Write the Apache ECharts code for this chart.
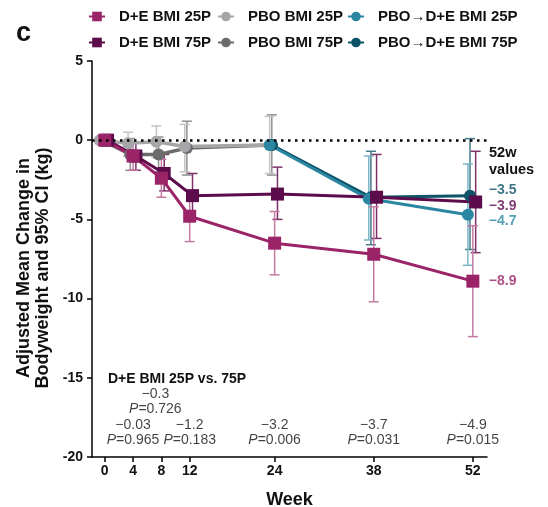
<!DOCTYPE html>
<html>
<head>
<meta charset="utf-8">
<script src="https://cdn.jsdelivr.net/npm/echarts@6/dist/echarts.min.js"></script>
<style>
html, body { margin: 0; padding: 0; background: #fff; }
#chart { width: 548px; height: 507px; }
</style>
</head>
<body>
<div id="chart"></div>
<script>
// weeks shown on the x axis
const weekTicks = [0, 4, 8, 12, 24, 38, 52];
const deWeeks = [0, 4, 8, 12, 24, 38, 52];
const pboWeeks = [0, 4, 8, 12, 24];
const swWeeks = [24, 38, 52];

// D+E BMI 25P
const de25 = [0, -1.0, -2.4, -4.8, -6.5, -7.2, -8.9];
const de25Lo = [0, -1.9, -3.6, -6.4, -8.5, -10.2, -12.4];
const de25Hi = [0, -0.1, -1.2, -3.2, -4.5, -4.2, -5.4];
// D+E BMI 75P
const de75 = [0, -1.0, -2.1, -3.5, -3.4, -3.6, -3.9];
const de75Lo = [0, -1.9, -3.2, -4.9, -5.0, -6.2, -7.1];
const de75Hi = [0, -0.1, -0.9, -2.1, -1.7, -0.9, -0.7];
// PBO BMI 25P
const pbo25 = [0, -0.2, -0.1, -0.4, -0.3];
const pbo25Lo = [0, -1.0, -1.1, -2.0, -2.1];
const pbo25Hi = [0, 0.5, 0.9, 1.0, 1.5];
// PBO BMI 75P
const pbo75 = [0, -0.9, -0.9, -0.5, -0.3];
const pbo75Lo = [0, -1.9, -2.0, -2.2, -2.2];
const pbo75Hi = [0, 0.1, 0.2, 1.2, 1.6];
// PBO->D+E BMI 25P
const sw25 = [-0.3, -3.7, -4.7];
const sw25Lo = [-0.3, -6.3, -7.9];
const sw25Hi = [-0.3, -1.0, -1.5];
// PBO->D+E BMI 75P
const sw75 = [-0.3, -3.6, -3.5];
const sw75Lo = [-0.3, -6.6, -6.9];
const sw75Hi = [-0.3, -0.7, 0.1];

// D+E BMI 25P vs 75P differences
const diffWeeks = [4, 8, 12, 24, 38, 52];
const diffValues = ['\u22120.03', '\u22120.3', '\u22121.2', '\u22123.2', '\u22123.7', '\u22124.9'];
const diffP = ['0.965', '0.726', '0.183', '0.006', '0.031', '0.015'];

const C = {
  de25: '#9b2468', de25Bar: '#c47aa4',
  de75: '#5c0b4b', de75Bar: '#7e3169',
  pbo25: '#a6a6a8', pbo25Bar: '#c4c4c6',
  pbo75: '#6b6b6d', pbo75Bar: '#909092',
  sw25: '#2b86a2', sw25Bar: '#7cb5c8',
  sw75: '#0e5367', sw75Bar: '#447a8a'
};

const FONT = '"Liberation Sans", Arial, sans-serif';

function pts(xs, ys, nudge) {
  return xs.map((w, i) => [w + nudge, ys[i]]);
}

function lineSeries(name, xs, ys, nudge, color, symbol, width) {
  return {
    name: name,
    type: 'line',
    z: 3,
    data: pts(xs, ys, nudge),
    symbol: symbol,
    symbolSize: symbol === 'rect' ? 13 : 12,
    showSymbol: true,
    itemStyle: { color: color },
    lineStyle: { color: color, width: width || 3 },
    emphasis: { disabled: true }
  };
}

function errorBars(name, xs, lo, hi, nudge, color) {
  const data = xs.map((w, i) => [w + nudge, lo[i], hi[i]]).filter(d => d[1] !== d[2]);
  return {
    name: name + ' CI',
    type: 'custom',
    z: 2,
    silent: true,
    data: data,
    encode: { x: 0, y: [1, 2] },
    renderItem: function (params, api) {
      const top = api.coord([api.value(0), api.value(2)]);
      const bot = api.coord([api.value(0), api.value(1)]);
      const hw = 5;
      const style = { stroke: color, lineWidth: 1.5, fill: null };
      return {
        type: 'group',
        children: [
          { type: 'line', shape: { x1: top[0], y1: top[1], x2: bot[0], y2: bot[1] }, style: style },
          { type: 'line', shape: { x1: top[0] - hw, y1: top[1], x2: top[0] + hw, y2: top[1] }, style: style },
          { type: 'line', shape: { x1: bot[0] - hw, y1: bot[1], x2: bot[0] + hw, y2: bot[1] }, style: style }
        ]
      };
    }
  };
}

const N = {
  de25: 'D+E BMI 25P', de75: 'D+E BMI 75P',
  pbo25: 'PBO BMI 25P', pbo75: 'PBO BMI 75P',
  sw25: 'PBO\u2192D+E BMI 25P', sw75: 'PBO\u2192D+E BMI 75P'
};

function fmt(v) {
  return (v < 0 ? '\u2212' : '') + Math.abs(v).toFixed(1);
}

// week-52 value labels on the right
const endLabels = [
  { v: sw75[2], color: C.sw75, dy: -5 },
  { v: de75[6], color: C.de75, dy: 4 },
  { v: sw25[2], color: C.sw25, dy: 6 },
  { v: de25[6], color: C.de25, dy: 0 }
];

const legendBase = {
  orient: 'vertical',
  top: 4,
  itemGap: 11,
  itemWidth: 16,
  itemHeight: 12,
  selectedMode: false,
  textStyle: { fontFamily: FONT, fontWeight: 'bold', fontSize: 15, color: '#111', padding: [0, 0, 0, 9] }
};

const chart = echarts.init(document.getElementById('chart'));

const pboLineA = lineSeries(N.pbo75, pboWeeks, pbo75, -0.4, C.pbo75, 'circle', 3.5);
pboLineA.markLine = {
  silent: true,
  symbol: 'none',
  label: { show: false },
  lineStyle: { color: '#000', type: [2.5, 4.5], width: 2.5 },
  data: [{ yAxis: 0 }]
};

chart.setOption({
  animation: false,
  textStyle: { fontFamily: FONT },
  grid: { left: 92, right: 61, top: 61, bottom: 50, outerBoundsMode: 'none', containLabel: false },
  legend: [
    Object.assign({ left: 83, data: [N.de25, N.de75] }, legendBase),
    Object.assign({ left: 212, data: [N.pbo25, N.pbo75] }, legendBase),
    Object.assign({ left: 342, data: [N.sw25, N.sw75] }, legendBase)
  ],
  xAxis: {
    type: 'value',
    min: -1.8,
    max: 54,
    name: 'Week',
    nameLocation: 'middle',
    nameGap: 34,
    nameTextStyle: { fontFamily: FONT, fontWeight: 'bold', fontSize: 18, color: '#111' },
    axisLine: { onZero: false, lineStyle: { color: '#000', width: 1.5 } },
    axisTick: { customValues: weekTicks, length: 5, lineStyle: { color: '#000', width: 1.5 } },
    axisLabel: { customValues: weekTicks, fontFamily: FONT, fontWeight: 'bold', fontSize: 14, color: '#111', margin: 7 },
    splitLine: { show: false }
  },
  yAxis: {
    type: 'value',
    min: -20,
    max: 5,
    interval: 5,
    axisLine: { show: true, onZero: false, lineStyle: { color: '#000', width: 1.5 } },
    axisTick: { show: true, length: 5, lineStyle: { color: '#000', width: 1.5 } },
    axisLabel: { fontFamily: FONT, fontWeight: 'bold', fontSize: 14, color: '#111', margin: 9 },
    splitLine: { show: false }
  },
  graphic: [
    { type: 'text', left: 16, top: 20, style: { text: 'c', font: 'bold 27px ' + FONT, fill: '#111' } },
    {
      type: 'text', x: 34, y: 268, rotation: Math.PI / 2,
      style: {
        text: 'Adjusted Mean Change in\nBodyweight and 95% CI (kg)',
        font: 'bold 18px ' + FONT, fill: '#111', align: 'center', verticalAlign: 'middle', lineHeight: 19
      }
    },
    {
      type: 'text', left: 489, top: 144,
      style: { text: '52w\nvalues', font: 'bold 14.5px ' + FONT, fill: '#111', lineHeight: 17 }
    },
    {
      type: 'text', left: 108, top: 372,
      style: { text: 'D+E BMI 25P vs. 75P', font: 'bold 14px ' + FONT, fill: '#111' }
    }
  ],
  series: [
    errorBars(N.pbo75, pboWeeks, pbo75Lo, pbo75Hi, -0.4, C.pbo75Bar),
    errorBars(N.pbo25, pboWeeks, pbo25Lo, pbo25Hi, -0.7, C.pbo25Bar),
    errorBars(N.sw75, swWeeks, sw75Lo, sw75Hi, -0.4, C.sw75Bar),
    errorBars(N.sw25, swWeeks, sw25Lo, sw25Hi, -0.7, C.sw25Bar),
    errorBars(N.de75, deWeeks, de75Lo, de75Hi, 0.4, C.de75Bar),
    errorBars(N.de25, deWeeks, de25Lo, de25Hi, 0, C.de25Bar),
    pboLineA,
    lineSeries(N.pbo25, pboWeeks, pbo25, -0.7, C.pbo25, 'circle', 3.5),
    lineSeries(N.sw75, swWeeks, sw75, -0.4, C.sw75, 'circle'),
    lineSeries(N.sw25, swWeeks, sw25, -0.7, C.sw25, 'circle'),
    lineSeries(N.de75, deWeeks, de75, 0.4, C.de75, 'rect'),
    lineSeries(N.de25, deWeeks, de25, 0, C.de25, 'rect'),
    {
      name: 'end labels',
      type: 'scatter',
      silent: true,
      z: 4,
      symbolSize: 0,
      data: endLabels.map(d => ({
        value: [52, d.v],
        label: {
          show: true, position: 'right', distance: 16, offset: [0, d.dy],
          formatter: fmt(d.v), color: d.color, fontFamily: FONT, fontWeight: 'bold', fontSize: 14
        }
      }))
    },
    {
      name: 'diff labels',
      type: 'scatter',
      silent: true,
      z: 4,
      symbolSize: 0,
      data: diffWeeks.map((w, i) => ({
        value: [w, w === 8 ? -16.5 : -18.45],
        label: {
          show: true, position: 'inside', offset: [w === 8 ? -6 : 0, 0],
          formatter: '{n|' + diffValues[i] + '}\n{i|P}{n|=' + diffP[i] + '}',
          rich: {
            n: { fontFamily: FONT, fontSize: 14, color: '#111', lineHeight: 15.5 },
            i: { fontFamily: FONT, fontSize: 14, fontStyle: 'italic', color: '#111', lineHeight: 15.5 }
          }
        }
      }))
    }
  ]
});
</script>
</body>
</html>
